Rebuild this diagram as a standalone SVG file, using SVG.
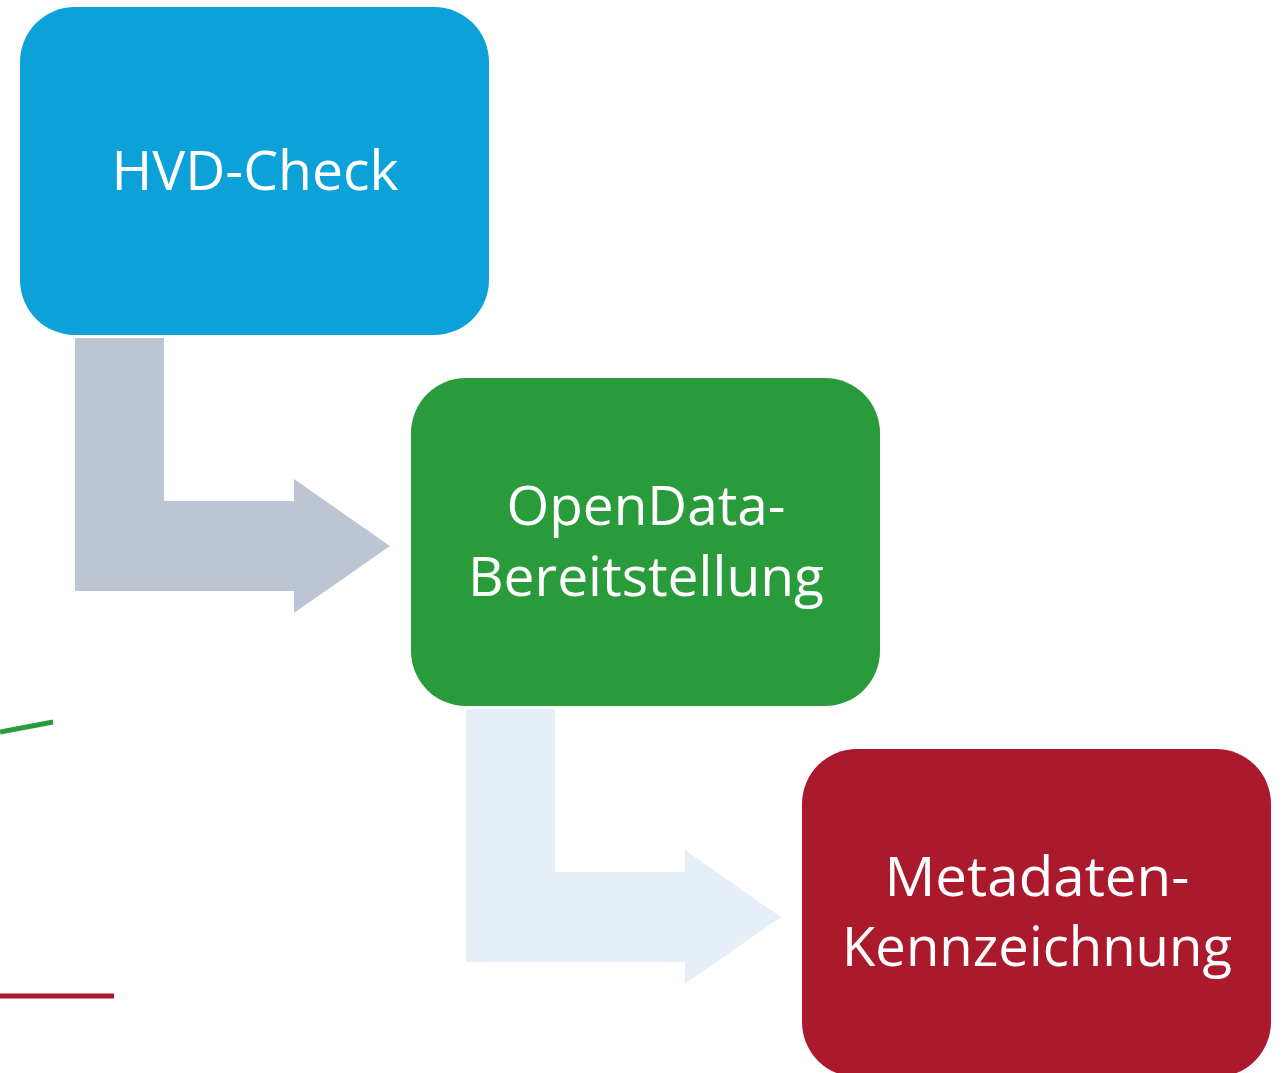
<svg xmlns="http://www.w3.org/2000/svg" width="1283" height="1073" viewBox="0 0 1283 1073">
<style>
text{font-family:"Open Sans","Noto Sans","Liberation Sans",sans-serif;font-size:54px;fill:#fff;text-anchor:middle}
</style>
<rect width="1283" height="1073" fill="#fff"/>
<g id="connectors">
<path d="M75 338H164V501H294V479L390 546L294 613V591H75Z" fill="#BEC5D2"/>
<path d="M466 709H555V872H685V850L781 917L685 984V962H466Z" fill="#E6EEF7"/>
<line x1="0" y1="732" x2="53" y2="722" stroke="#2A9B3A" stroke-width="5"/>
<line x1="0" y1="996" x2="114" y2="996" stroke="#AA192C" stroke-width="5"/>
</g>
<g id="hvd">
<rect x="20" y="7" width="469" height="328" rx="55" fill="#0CA1D8"/>
<text x="255" y="190" textLength="287" lengthAdjust="spacingAndGlyphs">HVD-Check</text>
</g>
<g id="opendata">
<rect x="411" y="378" width="469" height="328" rx="55" fill="#2A9B3A"/>
<text x="646" y="525" textLength="279" lengthAdjust="spacingAndGlyphs">OpenData-</text>
<text x="646" y="596" textLength="356" lengthAdjust="spacingAndGlyphs">Bereitstellung</text>
</g>
<g id="metadaten">
<rect x="802" y="749" width="469" height="328" rx="55" fill="#AA192C"/>
<text x="1037" y="896" textLength="305" lengthAdjust="spacingAndGlyphs">Metadaten-</text>
<text x="1037" y="966" textLength="390" lengthAdjust="spacingAndGlyphs">Kennzeichnung</text>
</g>
</svg>
